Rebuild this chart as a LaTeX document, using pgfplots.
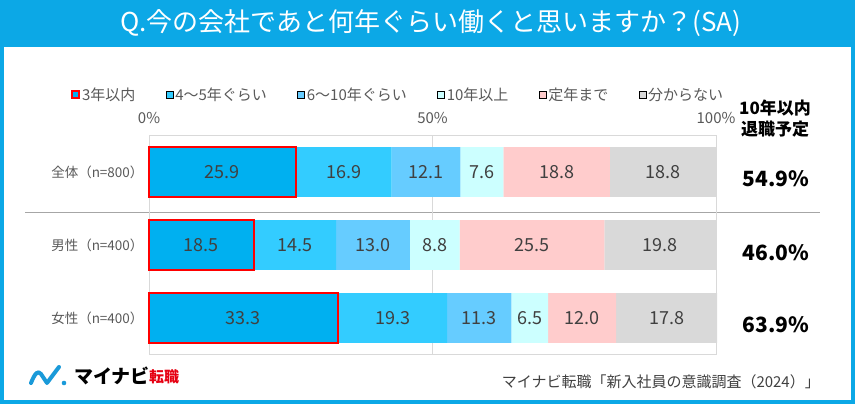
\documentclass[border=0pt]{standalone}
\usepackage{pgfplots}
\usepackage{pgfplotstable}
\pgfplotsset{compat=1.18}
\usepackage{fontspec}
\setmainfont{Noto Sans CJK JP}

\definecolor{titleblue}{RGB}{12,168,230}
\definecolor{ca}{HTML}{00B0F0}
\definecolor{cb}{HTML}{33CCFF}
\definecolor{cc}{HTML}{66CCFF}
\definecolor{cd}{HTML}{CCFFFF}
\definecolor{ce}{HTML}{FFCCCC}
\definecolor{cf}{HTML}{D9D9D9}
\definecolor{txt}{HTML}{595959}
\definecolor{lbl}{HTML}{404040}
\definecolor{logoblue}{HTML}{1A9AD9}
\definecolor{logored}{HTML}{E60012}

% share of answers (%), rows: all, men, women
\pgfplotstableread{
y a    b    c    d    e    f
0 25.9 16.9 12.1 7.6  18.8 18.8
1 18.5 14.5 13.0 8.8  25.5 19.8
2 33.3 19.3 11.3 6.5  12.0 17.8
}\data

\newcommand\fs[1]{\fontsize{#1}{#1}\selectfont}

\pgfplotsset{
  frame/.style={
    at={(149pt,49.5pt)}, anchor=south west,
    scale only axis, width=567pt, height=219pt,
    xmin=0, xmax=100, ymin=-0.5, ymax=2.5, y dir=reverse,
    bar width=0.68, clip=false,
  },
}

\begin{document}
\begin{tikzpicture}
\useasboundingbox (0,0) rectangle (855pt,404pt);
\fill[white] (0,0) rectangle (855pt,404pt);
\fill[titleblue] (0,357pt) rectangle (855pt,404pt);
\draw[titleblue, line width=4pt] (2pt,2pt) rectangle (853pt,402pt);
\node[white, font=\fs{26}] at (431pt,381pt) {Q.今の会社であと何年ぐらい働くと思いますか？(SA)};

\draw[gray!70, line width=0.8pt] (25pt,192pt) -- (820pt,192pt);

\begin{axis}[
  frame,
  xbar stacked,
  axis line style={draw=cf},
  xtick={0,50,100}, xticklabels={0\%,50\%,100\%}, xticklabel pos=upper,
  xticklabel style={yshift=8pt},
  xmajorgrids, grid style={draw=cf},
  ytick={0,1,2}, yticklabels={全体（n=800）,男性（n=400）,女性（n=400）},
  yticklabel style={font=\fs{13.5}, xshift=-2pt},
  major tick length=0pt,
  tick label style={font=\fs{15}, text=txt},
  point meta=explicit,
  nodes near coords={\pgfmathprintnumber[fixed,fixed zerofill,precision=1,assume math mode=true]{\pgfplotspointmeta}},
  every node near coord/.append style={anchor=center, font=\fs{18}, text=lbl},
  legend columns=6,
  legend style={at={(-0.143,1.185)}, anchor=west, draw=none, fill=none,
    font=\fs{15}, text=txt,
    /tikz/every even column/.append style={column sep=28.5pt}},
  legend image code/.code={\draw[#1] (0pt,-3.5pt) rectangle (7pt,3.5pt);},
]
\addplot[fill=ca, draw=red, line width=2pt] table[x=a, y=y, meta=a] \data;
\addplot[fill=cb, draw=none] table[x=b, y=y, meta=b] \data;
\addplot[fill=cc, draw=none] table[x=c, y=y, meta=c] \data;
\addplot[fill=cd, draw=none] table[x=d, y=y, meta=d] \data;
\addplot[fill=ce, draw=none] table[x=e, y=y, meta=e] \data;
\addplot[fill=cf, draw=none] table[x=f, y=y, meta=f] \data;
\legend{3年以内,4～5年ぐらい,6～10年ぐらい,10年以上,定年まで,分からない}
\end{axis}

% red outline of the first segment, drawn again on top
\begin{axis}[frame, hide axis, xbar, bar shift=0pt]
\addplot[fill=none, draw=red, line width=2pt] table[x=a, y=y] \data;
\end{axis}

\node[font=\bfseries\fs{17}] at (775pt,296pt) {10年以内};
\node[font=\bfseries\fs{17}] at (775pt,275pt) {退職予定};
\node[font=\bfseries\fs{21}] at (776pt,225pt) {54.9\%};
\node[font=\bfseries\fs{21}] at (776pt,151pt) {46.0\%};
\node[font=\bfseries\fs{21}] at (776pt,79pt) {63.9\%};

\draw[logoblue, line width=4pt, line cap=round, line join=round]
  (31pt,21pt) .. controls (35pt,31pt) and (38pt,34pt) .. (41pt,30pt) -- (47pt,21pt) -- (59pt,37pt);
\fill[logoblue] (64pt,21pt) circle (2.3pt);
\node[anchor=west, font=\bfseries\fs{19}, inner sep=0pt] at (74pt,28pt) {マイナビ};
\node[anchor=west, font=\bfseries\fs{15}, text=logored, inner sep=0pt] at (149pt,27pt) {転職};
\node[anchor=east, font=\fs{15}, text=lbl, inner sep=0pt] at (820pt,22pt) {マイナビ転職「新入社員の意識調査（2024）」};
\end{tikzpicture}
\end{document}
